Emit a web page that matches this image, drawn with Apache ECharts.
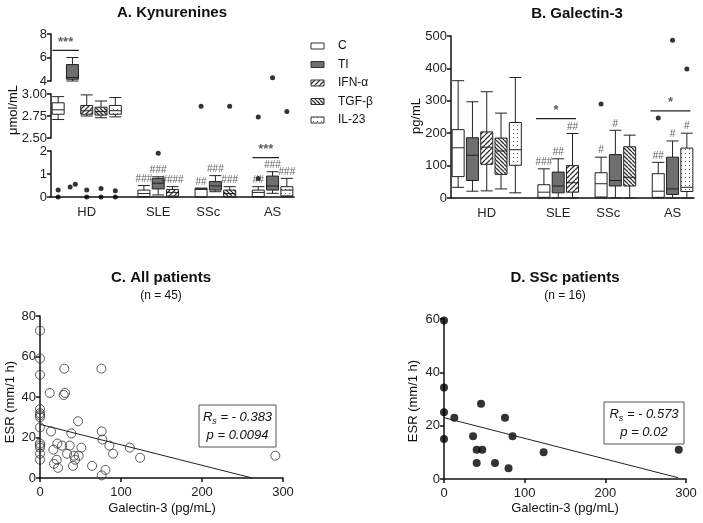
<!DOCTYPE html>
<html>
<head>
<meta charset="utf-8">
<script src="https://cdn.jsdelivr.net/npm/echarts@6/dist/echarts.min.js"></script>
<style>
html, body { margin: 0; padding: 0; background: #fff; }
#main { width: 703px; height: 523px; }
</style>
</head>
<body>
<div id="main"></div>
<script>
// ---- data ----
var treatments = ['C', 'TI', 'IFN-α', 'TGF-β', 'IL-23'];
var groups = ['HD', 'SLE', 'SSc', 'AS'];
var groupTreatments = [[0, 1, 2, 3, 4], [0, 1, 2], [0, 1, 3], [0, 1, 4]];

// kynurenines, umol/mL: [min, Q1, median, Q3, max] per treatment of each group
var kynHD = [[2.71, 2.77, 2.82, 2.90, 2.97], [4.0, 4.15, 4.3, 5.4, 6.0], [2.75, 2.77, 2.81, 2.87, 2.99], [2.73, 2.76, 2.80, 2.85, 2.92], [2.74, 2.77, 2.81, 2.87, 2.96]];
var kynSLE = [[0, 0.02, 0.15, 0.30, 0.5], [0.09, 0.35, 0.6, 0.81, 0.88], [0, 0.04, 0.2, 0.33, 0.45]];
var kynSSc = [[0, 0.01, 0.33, 0.38, 0.38], [0.23, 0.3, 0.48, 0.67, 0.93], [0, 0.01, 0.15, 0.3, 0.45]];
var kynAS = [[0, 0.02, 0.2, 0.3, 0.45], [0.16, 0.3, 0.48, 0.91, 1.1], [0, 0.05, 0.3, 0.45, 0.81]];
// [group, treatment, value, spread]
var kynOutliers = [
	['HD', 'C', 0.3], ['HD', 'C', 0], ['HD', 'TI', 0.43, -0.16], ['HD', 'TI', 0.55, 0.2],
	['HD', 'IFN-α', 0.3], ['HD', 'IFN-α', 0], ['HD', 'TGF-β', 0.37], ['HD', 'TGF-β', 0],
	['HD', 'IL-23', 0.27], ['HD', 'IL-23', 0], ['SLE', 'TI', 1.9], ['AS', 'C', 0.8],
	['SSc', 'C', 2.86], ['SSc', 'TGF-β', 2.86], ['AS', 'C', 2.74], ['AS', 'IL-23', 2.80], ['AS', 'TI', 4.27]
];
var kynHash = [[], ['###', '###', '####'], ['##', '###', '###'], ['##', '###', '###']];
var kynSig = [['HD', 0, 1, 6.6, '***'], ['SLE', 0, 1, 2.07, '***'], ['AS', 0, 1, 1.71, '***']];
var kynSegments = [[4, 8, 2], [2.5, 3, 0.25], [0, 2, 1]];

// galectin-3, pg/mL
var galHD = [[33, 66, 155, 211, 362], [21, 54, 132, 186, 297], [22, 104, 157, 204, 328], [28, 73, 145, 185, 262], [16, 101, 149, 233, 372]];
var galSLE = [[0, 2, 18, 41, 90], [0, 16, 37, 80, 121], [0, 18, 47, 100, 199]];
var galSSc = [[0, 3, 44, 78, 126], [0, 37, 54, 134, 209], [0, 37, 64, 158, 194]];
var galAS = [[0, 2, 21, 75, 110], [0, 11, 28, 126, 176], [0, 20, 33, 154, 200]];
var galOutliers = [['SSc', 'C', 290], ['AS', 'C', 247], ['AS', 'TI', 487], ['AS', 'IL-23', 398]];
var galHash = [[], ['###', '##', '##'], ['#', '#', ''], ['##', '#', '#']];
var galSig = [['SLE', 0, 2, 245, '*'], ['AS', 0, 2, 269, '*']];

// ESR vs galectin-3, all patients
var allGal = [0, 0, 0, 0, 0, 0, 0, 0, 0, 0, 0, 0, 0, 12, 13.6, 16.5, 17.3, 20.6, 21.4, 22.3, 27.2, 29.3, 30.9, 30, 33.4, 36.7, 38.7, 40.8, 42, 43.3, 47, 47.8, 51, 64.3, 75.8, 76.2, 76.2, 77, 80.8, 85.7, 90.2, 110.8, 123.6, 290.5];
var allEsr = [72.8, 59, 51, 34, 32, 30, 25, 17, 15, 12, 9, 31, 16, 42, 23, 14, 7, 9, 17, 5, 16, 41, 42, 54, 12, 16, 22, 6, 11, 9, 28, 11, 15, 6, 54, 23, 1.3, 19, 4, 16, 12, 15, 10, 11];
var allFit = [[0, 26.5], [262, 0]];
// SSc patients
var sscGal = [0, 0, 0, 0, 12.8, 36, 40.5, 40.5, 45.9, 47.5, 63.2, 75.6, 80, 85, 123.5, 291];
var sscEsr = [59.4, 34.3, 25, 15, 23, 16, 11, 6, 28.2, 11, 6, 23, 4, 16, 10, 11];
var sscFit = [[0, 23], [290, 0.5]];

// ---- layout helpers ----
var groupLabelAt = [2, 7, 10.5, 15];
var groupStart = [];
(function () {
	var s = 0;
	groupTreatments.forEach(function (g) { groupStart.push(s); s += g.length + 1; });
})();
function slotOf(gName, tName) {
	var g = groups.indexOf(gName);
	return groupStart[g] + groupTreatments[g].indexOf(treatments.indexOf(tName));
}

function hatch(step, dir, lw) {
	var c = document.createElement('canvas');
	c.width = c.height = step;
	var ctx = c.getContext('2d');
	ctx.fillStyle = '#fff';
	ctx.fillRect(0, 0, step, step);
	ctx.strokeStyle = '#333';
	ctx.lineWidth = lw;
	ctx.beginPath();
	for (var k = -1; k <= 1; k++) {
		if (dir > 0) { ctx.moveTo(k * step, step); ctx.lineTo(k * step + step, 0); }
		else { ctx.moveTo(k * step, 0); ctx.lineTo(k * step + step, step); }
	}
	ctx.stroke();
	return { image: c, repeat: 'repeat' };
}
function dots() {
	var c = document.createElement('canvas');
	c.width = c.height = 4;
	var ctx = c.getContext('2d');
	ctx.fillStyle = '#fff';
	ctx.fillRect(0, 0, 4, 4);
	ctx.fillStyle = '#666';
	ctx.fillRect(1, 1, 1, 1);
	return { image: c, repeat: 'repeat' };
}
var fills = ['#fff', '#6f6f6f', hatch(5, 1, 1.3), hatch(4, -1, 1.3), dots()];

var font = 'Liberation Sans';

function groupAxis(grid, show) {
	return {
		type: 'value', gridIndex: grid, min: -0.5, max: 16.5, interval: 0.5, show: show,
		axisLine: { show: true, onZero: false, lineStyle: { color: '#111', width: 1.5 } },
		axisTick: { show: false }, splitLine: { show: false },
		axisLabel: {
			fontSize: 13, color: '#222', margin: 9, fontFamily: font,
			formatter: function (v) { var i = groupLabelAt.indexOf(v); return i < 0 ? '' : groups[i]; }
		}
	};
}
function numAxis(grid, min, max, interval, fmt, margin) {
	return {
		type: 'value', gridIndex: grid, min: min, max: max, interval: interval,
		axisLine: { show: true, onZero: false, lineStyle: { color: '#111', width: 1.5 } },
		axisTick: { show: true, length: 4, lineStyle: { color: '#111', width: 1.5 } },
		splitLine: { show: false },
		axisLabel: { fontSize: 13, color: '#222', margin: margin || 4, fontFamily: font, formatter: fmt }
	};
}

var series = [];
function boxSeries(grid, boxesByGroup, filter) {
	var data = [];
	boxesByGroup.forEach(function (boxes, g) {
		boxes.forEach(function (b, k) {
			if (!filter(b)) return;
			var t = groupTreatments[g][k];
			data.push({ value: [groupStart[g] + k].concat(b), itemStyle: { color: fills[t] } });
		});
	});
	series.push({
		type: 'boxplot', xAxisIndex: grid, yAxisIndex: grid, boxWidth: [12, 12],
		itemStyle: { borderColor: '#222', borderWidth: 1 }, emphasis: { disabled: true },
		silent: true, data: data
	});
}
function dotSeries(grid, pts, size, style) {
	series.push({
		type: 'scatter', xAxisIndex: grid, yAxisIndex: grid, symbolSize: size,
		itemStyle: style, silent: true, data: pts
	});
}
function textSeries(grid, items, fontSize, weight) {
	series.push({
		type: 'scatter', xAxisIndex: grid, yAxisIndex: grid, symbolSize: 1, silent: true,
		itemStyle: { color: 'rgba(0,0,0,0)' },
		label: { show: true, position: 'top', distance: 1, formatter: '{b}', fontSize: fontSize, fontWeight: weight, color: '#333', fontFamily: font },
		data: items
	});
}
function sigBar(grid, x1, x2, y, text) {
	series.push({
		type: 'line', xAxisIndex: grid, yAxisIndex: grid, symbol: 'none', silent: true,
		lineStyle: { color: '#222', width: 1.2 }, data: [[x1, y], [x2, y]]
	});
	textSeries(grid, [{ name: text, value: [(x1 + x2) / 2, y] }], 13, 'bold');
}

// panel A, three broken segments (grids 0..2)
var kynAll = [kynHD, kynSLE, kynSSc, kynAS];
kynSegments.forEach(function (seg, i) {
	var inSeg = function (v) { return v >= seg[0] && v <= seg[1] + 0.15 * (seg[1] - seg[0]); };
	boxSeries(i, kynAll, function (b) { return inSeg(b[2]); });
	dotSeries(i, kynOutliers.filter(function (o) { return inSeg(o[2]); }).map(function (o) {
		return [slotOf(o[0], o[1]) + (o[3] || 0), o[2]];
	}), 5, { color: '#000' });
	var hashes = [];
	kynAll.forEach(function (boxes, g) {
		boxes.forEach(function (b, k) {
			if (kynHash[g][k] && inSeg(b[2])) hashes.push({ name: kynHash[g][k], value: [groupStart[g] + k, b[4]] });
		});
	});
	if (hashes.length) textSeries(i, hashes, 10, 'normal');
	kynSig.forEach(function (s) {
		if (!inSeg(s[3])) return;
		var g = groups.indexOf(s[0]);
		sigBar(i, groupStart[g] + s[1] - 0.4, groupStart[g] + s[2] + 0.45, s[3], s[4]);
	});
});

// panel B (grid 3)
var galAll = [galHD, galSLE, galSSc, galAS];
boxSeries(3, galAll, function () { return true; });
dotSeries(3, galOutliers.map(function (o) { return [slotOf(o[0], o[1]), o[2]]; }), 5, { color: '#000' });
(function () {
	var hashes = [];
	galAll.forEach(function (boxes, g) {
		boxes.forEach(function (b, k) {
			if (galHash[g][k]) hashes.push({ name: galHash[g][k], value: [groupStart[g] + k, b[4]] });
		});
	});
	textSeries(3, hashes, 10, 'normal');
})();
galSig.forEach(function (s) {
	var g = groups.indexOf(s[0]);
	sigBar(3, groupStart[g] + s[1] - 0.55, groupStart[g] + s[2] + 0.25, s[3], s[4]);
});

// panels C and D (grids 4, 5)
dotSeries(4, allGal.map(function (x, i) { return [x, allEsr[i]]; }), 9, { color: 'rgba(0,0,0,0)', borderColor: '#333', borderWidth: 1 });
series.push({ type: 'line', xAxisIndex: 4, yAxisIndex: 4, symbol: 'none', silent: true, lineStyle: { color: '#222', width: 1 }, data: allFit });
dotSeries(5, sscGal.map(function (x, i) { return [x, sscEsr[i]]; }), 8, { color: '#000' });
series.push({ type: 'line', xAxisIndex: 5, yAxisIndex: 5, symbol: 'none', silent: true, lineStyle: { color: '#222', width: 1 }, data: sscFit });

// ---- text & legend ----
function txt(x, y, text, size, extra) {
	var st = { text: text, fontSize: size, fontFamily: font, fill: '#111', align: 'center', verticalAlign: 'middle', textAlign: 'center', textVerticalAlign: 'middle' };
	var el = { type: 'text', x: x, y: y, silent: true, style: st };
	if (extra) { for (var k in extra) { if (k === 'rotation') el.rotation = extra[k]; else st[k] = extra[k]; } }
	return el;
}
var graphic = [
	txt(172, 13, 'A. Kynurenines', 15, { fontWeight: 'bold' }),
	txt(577, 14, 'B. Galectin-3', 15, { fontWeight: 'bold' }),
	txt(161, 278, 'C. All patients', 15, { fontWeight: 'bold' }),
	txt(161, 296, '(n = 45)', 12),
	txt(565, 278, 'D. SSc patients', 15, { fontWeight: 'bold' }),
	txt(565, 296, '(n = 16)', 12),
	txt(13, 110, 'μmol/mL', 13, { rotation: Math.PI / 2 }),
	txt(416, 116, 'pg/mL', 13, { rotation: Math.PI / 2 }),
	txt(10, 402, 'ESR (mm/1 h)', 13, { rotation: Math.PI / 2 }),
	txt(413, 401, 'ESR (mm/1 h)', 13, { rotation: Math.PI / 2 }),
	txt(162, 508, 'Galectin-3 (pg/mL)', 13),
	txt(565, 508, 'Galectin-3 (pg/mL)', 13)
];
treatments.forEach(function (t, i) {
	var y = 46 + i * 18.5;
	graphic.push({ type: 'rect', silent: true, shape: { x: 311, y: y - 3, width: 13, height: 6 }, style: { fill: fills[i], stroke: '#333', lineWidth: 1 } });
	graphic.push(txt(338, y, t, 12, { align: 'left', textAlign: 'left' }));
});
function statBox(x, y, w, h, rs, p) {
	graphic.push({ type: 'rect', silent: true, shape: { x: x, y: y, width: w, height: h }, style: { fill: '#fff', stroke: '#555', lineWidth: 1 } });
	graphic.push({
		type: 'text', silent: true, x: x + w / 2, y: y + h / 2,
		style: {
			text: '{i|R}{s|s}{i| = - ' + rs + '}\n{i|p = ' + p + '}',
			align: 'center', verticalAlign: 'middle', textAlign: 'center', textVerticalAlign: 'middle',
			fill: '#111',
			rich: {
				i: { fontSize: 13, fontStyle: 'italic', fontFamily: font, lineHeight: 18, fill: '#111' },
				s: { fontSize: 9, fontStyle: 'italic', fontFamily: font, lineHeight: 10, verticalAlign: 'bottom', fill: '#111' }
			}
		}
	});
}
statBox(199, 405, 77, 42, '0.383', '0.0094');
statBox(604, 402, 80, 42, '0.573', '0.02');

var myChart = echarts.init(document.getElementById('main'));
var option = {
	animation: false,
	textStyle: { fontFamily: font },
	grid: [
		{ left: 51, top: 34, width: 243, height: 47 },
		{ left: 51, top: 94, width: 243, height: 44 },
		{ left: 51, top: 151, width: 243, height: 46 },
		{ left: 451, top: 36, width: 243, height: 162 },
		{ left: 40, top: 316, width: 243, height: 162 },
		{ left: 444, top: 319, width: 242, height: 160 }
	],
	xAxis: [
		groupAxis(0, false), groupAxis(1, false), groupAxis(2, true), groupAxis(3, true),
		numAxis(4, 0, 300, 100, null, 8), numAxis(5, 0, 300, 100, null, 8)
	],
	yAxis: [
		numAxis(0, kynSegments[0][0], kynSegments[0][1], kynSegments[0][2]),
		numAxis(1, kynSegments[1][0], kynSegments[1][1], kynSegments[1][2], function (v) { return v.toFixed(2); }),
		numAxis(2, kynSegments[2][0], kynSegments[2][1], kynSegments[2][2]),
		numAxis(3, 0, 500, 100),
		numAxis(4, 0, 80, 20),
		numAxis(5, 0, 60, 20)
	],
	graphic: graphic,
	series: series
};
myChart.setOption(option);
</script>
</body>
</html>
